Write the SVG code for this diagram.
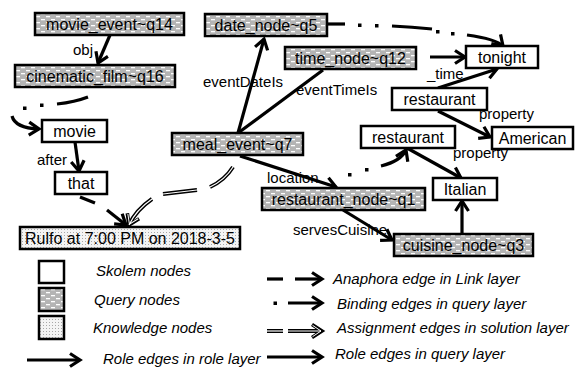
<svg xmlns="http://www.w3.org/2000/svg" width="575" height="369" viewBox="0 0 575 369">
<defs>
<pattern id="qpat" width="10" height="6" patternUnits="userSpaceOnUse">
<rect width="10" height="6" fill="#b4b4b4"/>
<rect x="1" y="1" width="4" height="1.3" fill="#fff"/>
<rect x="6" y="4" width="4" height="1.3" fill="#fff"/>
</pattern>
<pattern id="kpat" width="3" height="3" patternUnits="userSpaceOnUse">
<rect width="3" height="3" fill="#f4f4f4"/>
<rect x="1" y="1" width="1" height="1" fill="#a8a8a8"/>
</pattern>
<marker id="ah" markerUnits="userSpaceOnUse" markerWidth="16" markerHeight="16" refX="12" refY="7" orient="auto" overflow="visible">
<path d="M2,0.5 L12,7 L2,13.5" fill="none" stroke="#000" stroke-width="3.2" stroke-linejoin="miter"/>
</marker>
<marker id="ah2" markerUnits="userSpaceOnUse" markerWidth="16" markerHeight="16" refX="12" refY="7" orient="auto" overflow="visible">
<path d="M2,0.5 L12,7 L2,13.5" fill="none" stroke="#000" stroke-width="3.6"/>
<path d="M2.5,1.3 L11,7 L2.5,12.7" fill="none" stroke="#fff" stroke-width="1"/>
</marker>
</defs>
<style>
.sk{fill:#fff;stroke:#000;stroke-width:2.5}
.q{fill:url(#qpat);stroke:#000;stroke-width:2.5}
.k{fill:url(#kpat);stroke:#000;stroke-width:2.5}
.nt{font-family:"Liberation Sans",Arial,sans-serif;font-size:16px;text-anchor:middle;fill:#000}
.el{font-family:"Liberation Sans",Arial,sans-serif;font-size:15px;fill:#000}
.lg{font-family:"Liberation Sans",Arial,sans-serif;font-size:15px;font-style:italic;fill:#000}
.e{fill:none;stroke:#000;stroke-width:3.2}
.ea{fill:none;stroke:#000;stroke-width:3.2;marker-end:url(#ah)}
.d{fill:#000}
.dbo{fill:none;stroke:#000;stroke-width:4}
.dbi{fill:none;stroke:#fff;stroke-width:1.2}
</style>

<g id="connectors">
<!-- role edges -->
<path class="ea" d="M110,35 L98,63"/>
<path class="ea" d="M75,142 L79,171"/>
<path class="ea" d="M238,133 L264,39"/>
<path class="e" d="M238,133 L323,70"/>
<path class="ea" d="M240,156 L336,187"/>
<path class="ea" d="M343,210 L392,240"/>
<path class="ea" d="M462,234 L462,201"/>
<path class="ea" d="M407,148 L461,178"/>
<path class="ea" d="M438,111 L490,137"/>
<path class="ea" d="M438,88 L497,69"/>
<path class="ea" d="M430,57 L465,57"/>
<!-- binding: date_node -> tonight -->
<path class="e" d="M327,24 L345,24"/>
<rect class="d" x="358" y="23.5" width="3.5" height="3.5"/>
<rect class="d" x="375" y="24" width="3.5" height="3.5"/>
<path class="e" d="M392,26 Q412,27 432,29"/>
<rect class="d" x="436" y="30" width="3.5" height="3.5"/>
<rect class="d" x="451" y="32" width="3.5" height="3.5"/>
<path class="ea" d="M467,35 Q496,39 503,46"/>
<!-- binding: restaurant_node -> restaurant -->
<rect class="d" x="348" y="173" width="3.5" height="3.5"/>
<rect class="d" x="365" y="168" width="3.5" height="3.5"/>
<path class="ea" d="M381,166 Q401,161 406,150"/>
<!-- anaphora: cinematic_film -> movie -->
<path class="e" d="M88,97 Q75,102 57,104"/>
<rect class="d" x="40" y="103.5" width="3.5" height="3.5"/>
<rect class="d" x="23" y="106.5" width="3.5" height="3.5"/>
<path class="ea" d="M12,116 Q15,128 39,129"/>
<!-- anaphora: that -> Rulfo -->
<path class="e" d="M80,197 L95,203"/>
<path class="ea" d="M107,210 L126,225"/>
<!-- assignment: meal_event -> Rulfo -->
<path class="dbo" d="M233,167 Q225,180 210,187"/>
<path class="dbi" d="M233,167 Q225,180 210,187"/>
<path class="dbo" d="M197,190 L163,194"/>
<path class="dbi" d="M197,190 L163,194"/>
<path class="dbo" d="M152,199 Q136,210 129,225" marker-end="url(#ah2)"/>
<path class="dbi" d="M152,199 Q136,210 129,225"/>
</g>

<g id="edge-labels">
<text class="el" x="73" y="55">obj</text>
<text class="el" x="37" y="165">after</text>
<text class="el" x="203" y="87">eventDateIs</text>
<text class="el" x="296" y="95">eventTimeIs</text>
<text class="el" x="427" y="79">_time</text>
<text class="el" x="479" y="119">property</text>
<text class="el" x="453" y="158">property</text>
<text class="el" x="267" y="183">location</text>
<text class="el" x="293" y="235">servesCuisine</text>
</g>

<g id="movie_event"><rect class="q" x="35" y="13" width="149" height="22"/><text class="nt" x="109.5" y="29.5">movie_event~q14</text></g>
<g id="cinematic_film"><rect class="q" x="15" y="65" width="160" height="22"/><text class="nt" x="95" y="81.5">cinematic_film~q16</text></g>
<g id="movie"><rect class="sk" x="42" y="120" width="65" height="22"/><text class="nt" x="74.5" y="136.5">movie</text></g>
<g id="that"><rect class="sk" x="55" y="172" width="52" height="22"/><text class="nt" x="81" y="188.5">that</text></g>
<g id="rulfo"><rect class="k" x="20" y="227" width="220" height="22"/><text class="nt" x="130" y="243.5">Rulfo at 7:00 PM on 2018-3-5</text></g>
<g id="date_node"><rect class="q" x="205" y="14" width="122" height="22"/><text class="nt" x="266" y="30.5">date_node~q5</text></g>
<g id="time_node"><rect class="q" x="285" y="47" width="131" height="22"/><text class="nt" x="350.5" y="63.5">time_node~q12</text></g>
<g id="meal_event"><rect class="q" x="172" y="133" width="131" height="22"/><text class="nt" x="237.5" y="149.5">meal_event~q7</text></g>
<g id="tonight"><rect class="sk" x="466" y="46" width="72" height="22"/><text class="nt" x="502" y="62.5">tonight</text></g>
<g id="restaurant_a"><rect class="sk" x="392" y="88" width="95" height="22"/><text class="nt" x="439.5" y="104.5">restaurant</text></g>
<g id="american"><rect class="sk" x="492" y="127" width="81" height="22"/><text class="nt" x="532.5" y="143.5">American</text></g>
<g id="restaurant_b"><rect class="sk" x="361" y="126" width="94" height="22"/><text class="nt" x="408" y="142.5">restaurant</text></g>
<g id="italian"><rect class="sk" x="433" y="178" width="64" height="22"/><text class="nt" x="465" y="194.5">Italian</text></g>
<g id="restaurant_node"><rect class="q" x="262" y="188" width="163" height="22"/><text class="nt" x="343.5" y="204.5">restaurant_node~q1</text></g>
<g id="cuisine_node"><rect class="q" x="394" y="234" width="139" height="22"/><text class="nt" x="463.5" y="250.5">cuisine_node~q3</text></g>

<g id="legend">
<rect class="sk" x="39" y="261" width="25" height="22"/>
<rect class="q" x="39" y="288" width="25" height="23"/>
<rect class="k" x="39" y="316" width="25" height="23"/>
<text class="lg" x="96" y="276">Skolem nodes</text>
<text class="lg" x="94" y="305">Query nodes</text>
<text class="lg" x="93" y="333">Knowledge nodes</text>
<path class="ea" d="M27,360 L80,360"/>
<text class="lg" x="103" y="364">Role edges in role layer</text>
<path class="e" d="M267,279 L283,279"/>
<path class="ea" d="M295,279 L322,279"/>
<text class="lg" x="333" y="284">Anaphora edge in Link layer</text>
<rect class="d" x="273.5" y="301.5" width="3.5" height="3.5"/>
<path class="ea" d="M288,303 L322,303"/>
<text class="lg" x="337" y="309">Binding edges in query layer</text>
<path class="dbo" d="M267,331 L283,331"/>
<path class="dbi" d="M267,331 L283,331"/>
<path class="dbo" d="M288,331 L322,331" marker-end="url(#ah2)"/>
<path class="dbi" d="M288,331 L321,331"/>
<text class="lg" x="337" y="333">Assignment edges in solution layer</text>
<path class="ea" d="M267,357 L322,357"/>
<text class="lg" x="335" y="359">Role edges in query layer</text>
</g>
</svg>
